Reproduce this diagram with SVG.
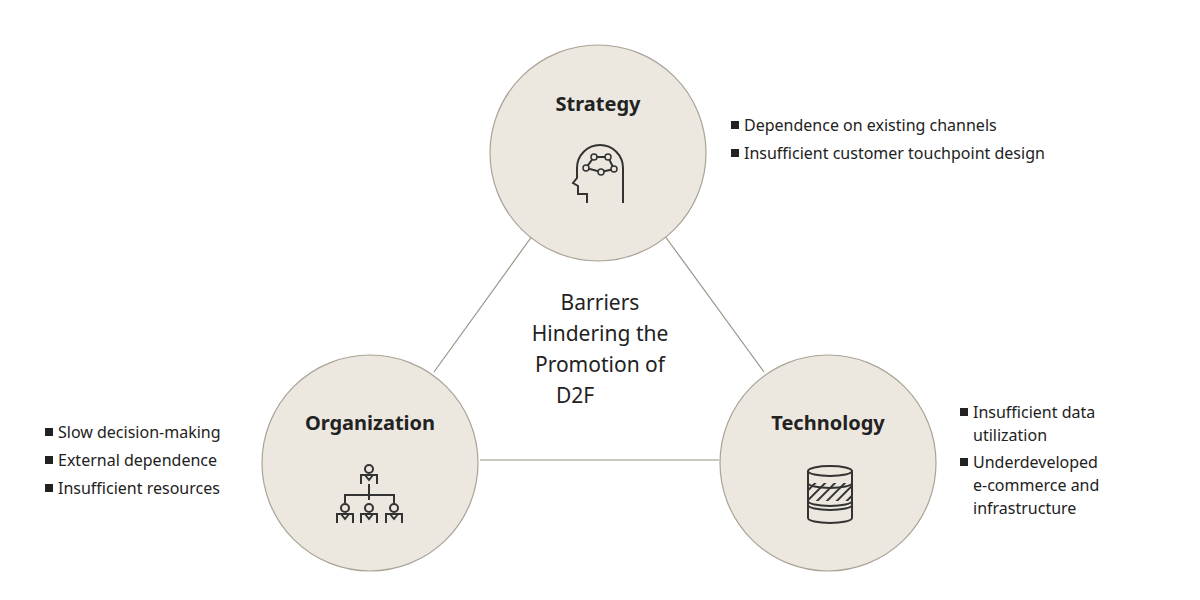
<svg xmlns="http://www.w3.org/2000/svg" width="1200" height="600" viewBox="0 0 1200 600">
<defs>
<style>
.c{fill:#ece7df;stroke:#aaa397;stroke-width:1.2}
.t{font-family:"Noto Sans",sans-serif;font-weight:bold;font-size:20px;fill:#222;text-anchor:middle}
.b{font-family:"Noto Sans",sans-serif;font-size:16px;fill:#222}
.m{font-family:"Noto Sans",sans-serif;font-size:21px;fill:#222;text-anchor:middle}
.i{fill:none;stroke:#333;stroke-width:2;stroke-linejoin:miter}
.l{stroke:#9a9488;stroke-width:1.2}
</style>
<pattern id="h" width="7" height="7" patternUnits="userSpaceOnUse" patternTransform="rotate(45)"><rect width="7" height="7" fill="#ece7df"/><line x1="0" y1="0" x2="0" y2="7" stroke="#333" stroke-width="4"/></pattern>
<g id="p"><circle cx="0" cy="0" r="4" fill="none" stroke="#333" stroke-width="2"/><path d="M-8,15 V6 H8 V15 M-4,6 L0,11 L4,6" fill="none" stroke="#333" stroke-width="2"/></g>
</defs>
<rect width="1200" height="600" fill="#fff"/>
<g id="connectors">
<line class="l" x1="535" y1="232" x2="434" y2="372"/>
<line class="l" x1="662" y1="232" x2="764" y2="372"/>
<line class="l" x1="480" y1="460" x2="719" y2="460"/>
</g>
<g id="center"><text class="m" x="600" y="310">Barriers</text><text class="m" x="600" y="341">Hindering the</text><text class="m" x="600" y="372">Promotion of</text><text class="m" x="556" y="403" style="text-anchor:start">D2F</text></g>
<g id="strategy">
<circle class="c" cx="598" cy="153" r="108"/>
<text class="t" x="598" y="111">Strategy</text>
<path class="i" d="M623,203 V168 A23 23 0 0 0 577,168 V178 L573,183 L578,186 V194 L587,194 V203"/>
<path class="i" d="M594,157 L608,157 L614,169 L601,172 L586,168 Z" stroke-width="1.5"/>
<g fill="#ece7df" stroke="#333" stroke-width="1.5"><circle cx="594" cy="157" r="3"/><circle cx="608" cy="157" r="3"/><circle cx="614" cy="169" r="3"/><circle cx="601" cy="172" r="3"/><circle cx="586" cy="168" r="3"/></g>
<rect x="731" y="121" width="8" height="8" fill="#222"/><text class="b" x="744" y="131">Dependence on existing channels</text>
<rect x="731" y="149" width="8" height="8" fill="#222"/><text class="b" x="744" y="159">Insufficient customer touchpoint design</text>
</g>
<g id="organization">
<circle class="c" cx="370" cy="463" r="108"/>
<text class="t" x="370" y="430">Organization</text>
<use href="#p" x="369" y="469"/>
<path class="i" d="M369,484 V500 M345,503 V495 H394 V503"/>
<use href="#p" x="345" y="508"/>
<use href="#p" x="369" y="508"/>
<use href="#p" x="394" y="508"/>
<rect x="45" y="428" width="8" height="8" fill="#222"/><text class="b" x="58" y="438">Slow decision-making</text>
<rect x="45" y="456" width="8" height="8" fill="#222"/><text class="b" x="58" y="466">External dependence</text>
<rect x="45" y="484" width="8" height="8" fill="#222"/><text class="b" x="58" y="494">Insufficient resources</text>
</g>
<g id="technology">
<circle class="c" cx="828" cy="463" r="108"/>
<text class="t" x="828" y="430">Technology</text>
<rect x="808" y="483" width="44" height="18" fill="url(#h)"/>
<g class="i">
<path d="M808,471 V518 A22 5 0 0 0 852,518 V471"/>
<ellipse cx="830" cy="471" rx="22" ry="5"/>
<path d="M808,483 A22 5 0 0 0 852,483 M808,501 A22 5 0 0 0 852,501 M808,505 A22 5 0 0 0 852,505"/>
</g>
<rect x="960" y="408" width="8" height="8" fill="#222"/><text class="b" x="973" y="418">Insufficient data</text><text class="b" x="973" y="441">utilization</text>
<rect x="960" y="458" width="8" height="8" fill="#222"/><text class="b" x="973" y="468">Underdeveloped</text><text class="b" x="973" y="491">e-commerce and</text><text class="b" x="973" y="514">infrastructure</text>
</g>
</svg>
